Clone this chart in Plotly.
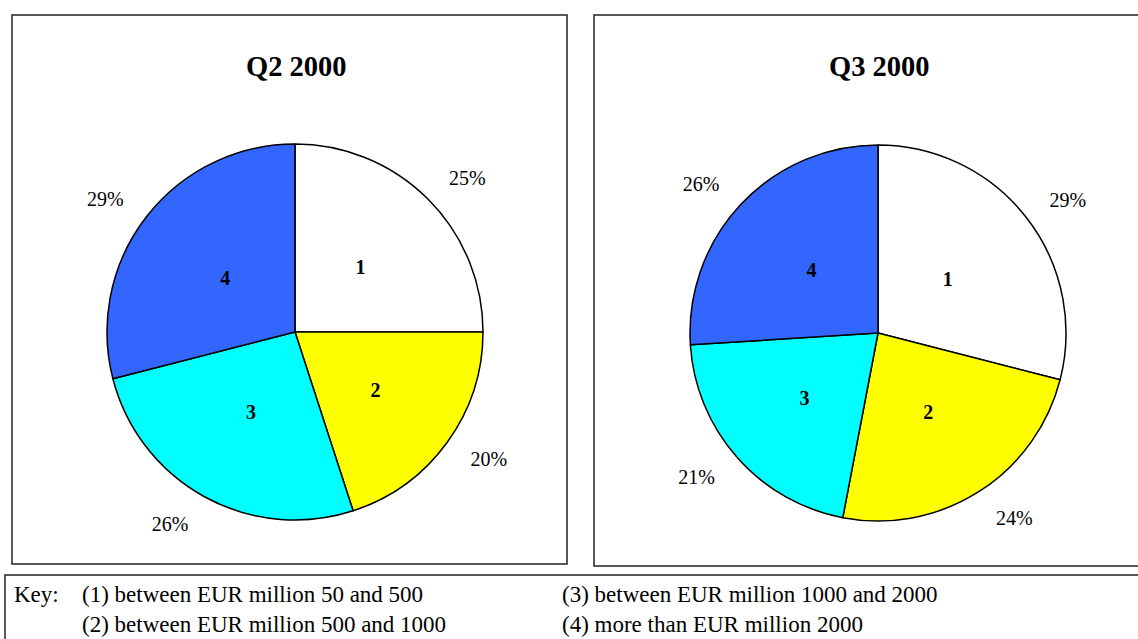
import plotly.graph_objects as go

W, H = 1138, 639

# ---- data ----
segments = ["1", "2", "3", "4"]
q2_values = [25, 20, 26, 29]
q3_values = [29, 24, 21, 26]
titles = ["Q2 2000", "Q3 2000"]
key_label = "Key:"
key_items = [
    "(1) between EUR million 50 and 500",
    "(2) between EUR million 500 and 1000",
    "(3) between EUR million 1000 and 2000",
    "(4) more than EUR million 2000",
]
colors = ["#FFFFFF", "#FFFF00", "#00FFFF", "#3366FF"]

FONT = "Liberation Serif, Times New Roman, serif"


def px_x(x):
    return x / W


def px_y(y):
    return 1 - y / H


def domain(cx, cy, r):
    return dict(x=[px_x(cx - r), px_x(cx + r)], y=[px_y(cy + r), px_y(cy - r)])


fig = go.Figure()

pies = [(q2_values, 295, 332), (q3_values, 878, 333)]
R = 188
R_INNER = 158   # transparent pie carrying the segment numbers
R_LABEL = 210   # transparent pie carrying the percentage labels

for vals, cx, cy in pies:
    fig.add_trace(go.Pie(
        values=vals, labels=segments,
        textinfo="none",
        marker=dict(colors=colors, line=dict(color="black", width=1.5)),
        sort=False, direction="clockwise", rotation=0,
        domain=domain(cx, cy, R), showlegend=False, hoverinfo="skip",
    ))
    fig.add_trace(go.Pie(
        values=vals, labels=segments, text=segments,
        textinfo="text", textposition="inside",
        insidetextorientation="horizontal",
        insidetextfont=dict(family=FONT, size=20, color="black", weight="bold"),
        marker=dict(colors=["rgba(0,0,0,0)"] * 4, line=dict(width=0)),
        sort=False, direction="clockwise", rotation=0,
        domain=domain(cx, cy, R_INNER), showlegend=False, hoverinfo="skip",
    ))
    fig.add_trace(go.Pie(
        values=vals, labels=segments,
        text=[f"{v}%" for v in vals],
        textinfo="text", textposition="outside",
        outsidetextfont=dict(family=FONT, size=20, color="black"),
        marker=dict(colors=["rgba(0,0,0,0)"] * 4, line=dict(width=0)),
        sort=False, direction="clockwise", rotation=0,
        domain=domain(cx, cy, R_LABEL), showlegend=False, hoverinfo="skip",
    ))

shapes = []
for x0, y0, x1, y1 in [(12, 15, 567, 564), (594, 15, 1145, 566), (5, 575, 1145, 650)]:
    shapes.append(dict(type="rect", xref="paper", yref="paper",
                       x0=px_x(x0), x1=px_x(x1), y0=px_y(y1), y1=px_y(y0),
                       line=dict(color="#222222", width=1.5), fillcolor="rgba(0,0,0,0)"))

annotations = []
for t, cx in zip(titles, [296, 879]):
    annotations.append(dict(text=f"<b>{t}</b>", x=px_x(cx), y=px_y(67), xref="paper", yref="paper",
                            xanchor="center", yanchor="middle", showarrow=False,
                            font=dict(family=FONT, size=28.5, color="black")))

annotations.append(dict(text=key_label, x=px_x(12), y=px_y(594), xref="paper", yref="paper",
                        xanchor="left", yanchor="middle", showarrow=False,
                        font=dict(family=FONT, size=23, color="black")))
key_pos = [(80, 594), (80, 624), (560, 594), (560, 624)]
for txt, (x, y) in zip(key_items, key_pos):
    annotations.append(dict(text=txt, x=px_x(x), y=px_y(y), xref="paper", yref="paper",
                            xanchor="left", yanchor="middle", showarrow=False,
                            font=dict(family=FONT, size=23, color="black")))

fig.update_layout(
    width=W, height=H,
    margin=dict(l=0, r=0, t=0, b=0),
    paper_bgcolor="white", plot_bgcolor="white",
    shapes=shapes, annotations=annotations,
)

fig.write_html("out.html")
